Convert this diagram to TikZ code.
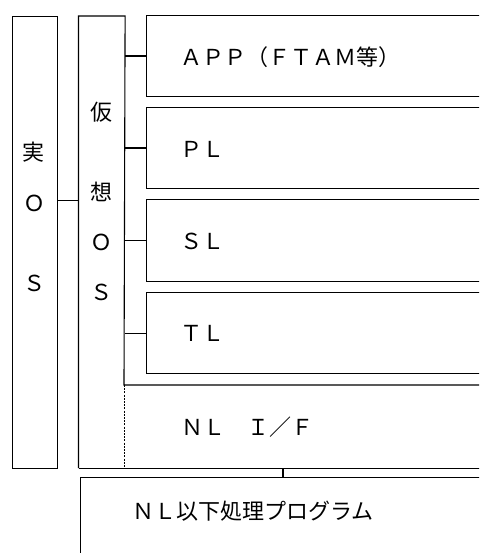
\documentclass[tikz,border=0pt]{standalone}
\usepackage{fontspec}
\newfontfamily\cjk{Noto Sans CJK JP}
\begin{document}
\begin{tikzpicture}[x=1pt,y=-1pt, line width=1.1pt,
  box/.style={draw, anchor=north west, inner sep=0pt},
  area/.style={anchor=north west, inner sep=0pt},
  lbl/.style={font=\cjk\fontsize{22}{24}\selectfont, inner sep=0pt, anchor=west},
  vlbl/.style={font=\cjk\fontsize{22}{24}\selectfont, inner sep=0pt},
  dotline/.style={dash pattern=on 2pt off 1.2pt, line width=0.9pt}]
\useasboundingbox (0,0) rectangle (479,553);
\clip (0,0) rectangle (479,553);

% real OS
\node[box, minimum width=45.5pt, minimum height=452pt] (real) at (11.5,16) {};
% virtual OS area (drawn by path)
\node[area, minimum width=45.5pt, minimum height=451pt] (virt) at (78.5,16) {};
% layer boxes
\node[box, minimum width=344pt, minimum height=81pt] (app) at (146,15) {};
\node[box, minimum width=344pt, minimum height=81pt] (pl) at (146,107) {};
\node[box, minimum width=344pt, minimum height=82pt] (sl) at (146,199) {};
\node[box, minimum width=344pt, minimum height=81pt] (tl) at (146,292) {};
\node[area, minimum width=366pt, minimum height=82pt] (nlif) at (124,385) {};
\node[box, minimum width=410pt, minimum height=90pt] (prog) at (80,477) {};

% virtual OS outline and NL I/F
\draw (virt.south west) -- (virt.north west) -- (virt.north east) -- (nlif.north west) -- (nlif.north east);
\draw (virt.south west) -- (nlif.south east);
\draw[dotline] (nlif.north west) -- (nlif.south west);

% connectors
\coordinate (rv) at (57,200.5);
\draw (rv -| real.east) -- (rv -| virt.west);
\draw (app.west) -- (app.west -| virt.east);
\draw (pl.west) -- (pl.west -| virt.east);
\draw (sl.west) -- (sl.west -| virt.east);
\draw (tl.west) -- (tl.west -| virt.east);
\coordinate (tk) at (283,0);
\draw (tk |- nlif.south) -- (tk |- prog.north);

% labels
\node[lbl] (tapp) at (180,57) {ＡＰＰ（ＦＴＡＭ等）};
\node[lbl] (tpl) at (180,149) {ＰＬ};
\node[lbl] (tsl) at (180,241) {ＳＬ};
\node[lbl] (ttl) at (180,333) {ＴＬ};
\node[lbl] (tnlif) at (181,427) {ＮＬ　Ｉ／Ｆ};
\node[lbl] (tprog) at (132,511) {ＮＬ以下処理プログラム};

\node[vlbl] (r1) at (33.5,152) {実};
\node[vlbl] (r2) at (34,203) {Ｏ};
\node[vlbl] (r3) at (34,283) {Ｓ};
\node[vlbl] (v1) at (101,112) {仮};
\node[vlbl] (v2) at (101.5,192) {想};
\node[vlbl] (v3) at (101.5,242) {Ｏ};
\node[vlbl] (v4) at (101.5,292) {Ｓ};
\end{tikzpicture}
\end{document}
